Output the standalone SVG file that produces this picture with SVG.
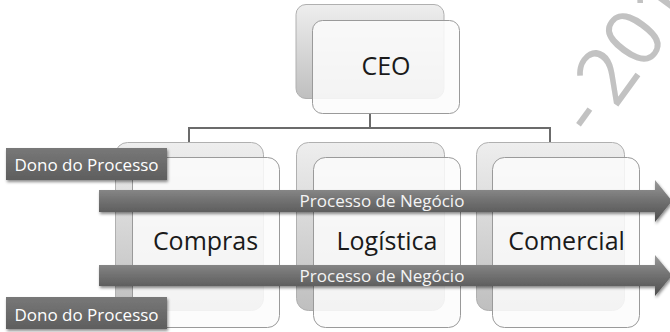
<svg xmlns="http://www.w3.org/2000/svg" width="670" height="332" viewBox="0 0 670 332">
  <defs>
    <linearGradient id="backGrad" x1="0" y1="0" x2="0" y2="1">
      <stop offset="0" stop-color="#eeeeee"/>
      <stop offset="1" stop-color="#bfbfbf"/>
    </linearGradient>
    <linearGradient id="arrowGrad" x1="0" y1="0" x2="0" y2="1">
      <stop offset="0" stop-color="#9a9a9a"/>
      <stop offset="0.45" stop-color="#747474"/>
      <stop offset="1" stop-color="#4e4e4e"/>
    </linearGradient>
    <linearGradient id="donoGrad" x1="0" y1="0" x2="0" y2="1">
      <stop offset="0" stop-color="#787878"/>
      <stop offset="1" stop-color="#5e5e5e"/>
    </linearGradient>
    <filter id="shadow" x="-5%" y="-30%" width="110%" height="170%">
      <feDropShadow dx="1" dy="2" stdDeviation="1.5" flood-color="#000" flood-opacity="0.45"/>
    </filter>
  </defs>
  <style>
    .back { fill: url(#backGrad); stroke: #b0b0b0; stroke-width: 1; }
    .front { fill: #fbfbfb; fill-opacity: 0.86; stroke: #9a9a9a; stroke-width: 1; }
    .label { font-family: "Open Sans", "Liberation Sans", sans-serif; font-size: 25px; fill: #1a1a1a; text-anchor: middle; }
    .conn { fill: none; stroke: #6b6b6b; stroke-width: 2; }
    .arrow { fill: url(#arrowGrad); filter: url(#shadow); }
    .atext { font-family: "Open Sans", "Liberation Sans", sans-serif; font-size: 17px; fill: #f4f4f4; text-anchor: middle; }
    .dono { fill: url(#donoGrad); filter: url(#shadow); }
    .dtext { font-family: "Open Sans", "Liberation Sans", sans-serif; font-size: 17px; fill: #ffffff; text-anchor: middle; }
    .wm { font-family: "Open Sans", "Liberation Sans", sans-serif; font-size: 80px; fill: #c2c2c2; }
  </style>

  <text class="wm" x="594" y="140" dx="0 0 -9" transform="rotate(-54 594 140)">- 201</text>

  <g id="connectors">
    <path class="conn" d="M370,113 V128"/>
    <path class="conn" d="M189,142 V128 H550 V142"/>
  </g>

  <g id="ceo">
    <rect class="back" x="296" y="4.5" width="148" height="94" rx="10"/>
    <rect class="front" x="312.5" y="20.5" width="147" height="93" rx="10"/>
    <text class="label" x="386" y="75">CEO</text>
  </g>

  <g id="compras">
    <rect class="back" x="115.5" y="142.5" width="148" height="168" rx="12"/>
    <rect class="front" x="132.5" y="157.5" width="147" height="170" rx="12"/>
    <text class="label" x="205.5" y="250">Compras</text>
  </g>

  <g id="logistica">
    <rect class="back" x="296.5" y="142.5" width="148" height="168" rx="12"/>
    <rect class="front" x="313.5" y="157.5" width="147" height="170" rx="12"/>
    <text class="label" x="387" y="250">Logística</text>
  </g>

  <g id="comercial">
    <rect class="back" x="476.5" y="142.5" width="148" height="168" rx="12"/>
    <rect class="front" x="492.5" y="157.5" width="147" height="170" rx="12"/>
    <text class="label" x="566.5" y="250">Comercial</text>
  </g>

  <g id="arrow1">
    <path class="arrow" d="M99,190 H655 V180 L672,201 L655,222 V212 H99 Z"/>
    <text class="atext" x="382" y="207">Processo de Negócio</text>
  </g>

  <g id="dono1">
    <rect class="dono" x="6" y="148" width="161" height="32"/>
    <text class="dtext" x="86.5" y="171">Dono do Processo</text>
  </g>

  <g id="arrow2">
    <path class="arrow" d="M99,265 H655 V255 L672,275.5 L655,296 V286 H99 Z"/>
    <text class="atext" x="382" y="282">Processo de Negócio</text>
  </g>

  <g id="dono2">
    <rect class="dono" x="6" y="297" width="161" height="32"/>
    <text class="dtext" x="86.5" y="321">Dono do Processo</text>
  </g>
</svg>
